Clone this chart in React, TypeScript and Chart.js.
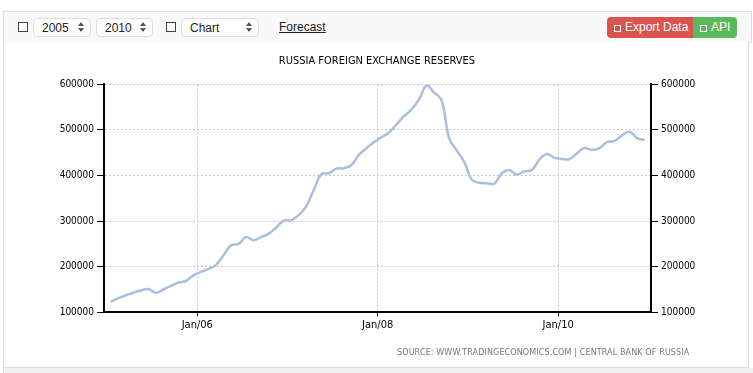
import React, { useEffect, useRef } from "react";
import Chart from "chart.js/auto";

// ---- data ----
const years = [2005, 2006, 2007, 2008, 2009, 2010];
const r2005 = [123000, 131000, 137000, 143000, 148000, 151000, 143000, 150000, 158000, 165000, 169000, 181000];
const r2006 = [189000, 195000, 204000, 225000, 247000, 250000, 265000, 258000, 265000, 272000, 286000, 301000];
const r2007 = [302000, 313000, 333000, 368000, 403000, 405000, 415000, 416000, 423000, 445000, 460000, 473000];
const r2008 = [484000, 494000, 512000, 530000, 545000, 567000, 597000, 582000, 565000, 482000, 455000, 430000];
const r2009 = [391000, 384000, 383000, 382000, 405000, 412000, 402000, 409000, 412000, 435000, 447000, 439000];
const r2010 = [436000, 436000, 449000, 460000, 456000, 460000, 473000, 476000, 488000, 496000, 482000, 478000];
const reservesByYear = [r2005, r2006, r2007, r2008, r2009, r2010];

const xTickMonths = [12, 36, 60];
const xTickLabels = ["Jan/06", "Jan/08", "Jan/10"];
const yMin = 100000;
const yMax = 600000;
const yStep = 100000;

const TITLE = "RUSSIA FOREIGN EXCHANGE RESERVES";
const SOURCE = "SOURCE: WWW.TRADINGECONOMICS.COM | CENTRAL BANK OF RUSSIA";

function Arrows({ x, y }: { x: number; y: number }) {
  return (
    <>
      <div style={{ position: "absolute", left: x, top: y, width: 0, height: 0, borderLeft: "3px solid transparent", borderRight: "3px solid transparent", borderBottom: "4px solid #555" }} />
      <div style={{ position: "absolute", left: x, top: y + 6, width: 0, height: 0, borderLeft: "3px solid transparent", borderRight: "3px solid transparent", borderTop: "4px solid #555" }} />
    </>
  );
}

function SelectBox({ left, width, text }: { left: number; width: number; text: string }) {
  return (
    <div style={{ position: "absolute", left, top: 18, width, height: 19, boxSizing: "border-box", border: "1px solid #ddd", borderRadius: 4, background: "#fff" }}>
      <span style={{ position: "absolute", left: 8, top: 1, fontSize: 12, lineHeight: "16px", color: "#222" }}>{text}</span>
      <Arrows x={width - 14} y={3} />
    </div>
  );
}

function CheckBox({ left }: { left: number }) {
  return <div style={{ position: "absolute", left, top: 22, width: 10, height: 10, boxSizing: "border-box", border: "1.5px solid #444", background: "#fff" }} />;
}

export default function App() {
  const canvasRef = useRef<HTMLCanvasElement | null>(null);

  useEffect(() => {
    if (!canvasRef.current) return;
    const points: { x: number; y: number }[] = [];
    reservesByYear.forEach((arr, yi) => {
      arr.forEach((v, mi) => {
        points.push({ x: (years[yi] - years[0]) * 12 + mi + 0.5, y: v });
      });
    });

    const axisFont = { family: "'DejaVu Sans Condensed', 'DejaVu Sans', sans-serif", size: 10 };

    const chart = new Chart(canvasRef.current, {
      type: "line",
      data: {
        datasets: [
          {
            label: "Reserves",
            data: points,
            borderColor: "#a9bfde",
            borderWidth: 2.5,
            pointRadius: 0,
            tension: 0.4,
            fill: false,
          },
        ],
      },
      options: {
        animation: false,
        responsive: false,
        maintainAspectRatio: false,
        layout: { padding: { left: 3, right: 0, top: 0, bottom: 0 } },
        plugins: {
          legend: { display: false },
          tooltip: { enabled: false },
          title: {
            display: true,
            text: TITLE,
            color: "#000",
            font: { family: "'DejaVu Sans Condensed', 'DejaVu Sans', sans-serif", size: 11, weight: "normal", lineHeight: 1.2 },
            padding: { top: 11.4, bottom: 16.7 },
          },
        },
        scales: {
          x: {
            type: "linear",
            min: -0.4,
            max: 72.35,
            afterBuildTicks: (scale: any) => {
              scale.ticks = xTickMonths.map((v) => ({ value: v }));
            },
            afterFit: (scale: any) => {
              scale.height = 54.7;
            },
            ticks: {
              autoSkip: false,
              maxRotation: 0,
              padding: 2,
              color: "#000",
              font: { family: "'DejaVu Sans Condensed', 'DejaVu Sans', sans-serif", size: 11 },
              callback: (v: any) => {
                const i = xTickMonths.indexOf(Number(v));
                return i >= 0 ? xTickLabels[i] : "";
              },
            },
            grid: { color: "#c8c8c8", lineWidth: 1, tickColor: "#000", tickLength: 4, tickWidth: 1 },
            border: { display: true, color: "#000", width: 2, dash: [2, 2] },
          },
          y: {
            position: "left",
            min: yMin,
            max: yMax,
            afterFit: (scale: any) => {
              scale.width = 97;
            },
            ticks: { stepSize: yStep, color: "#000", padding: 3, font: axisFont, callback: (v: any) => String(v) },
            grid: { color: "#c8c8c8", lineWidth: 1, tickColor: "#000", tickLength: 7, tickWidth: 1 },
            border: { display: true, color: "#000", width: 2, dash: [2, 2] },
          },
          y2: {
            position: "right",
            min: yMin,
            max: yMax,
            afterFit: (scale: any) => {
              scale.width = 96;
            },
            ticks: { stepSize: yStep, color: "#000", padding: 3, font: axisFont, callback: (v: any) => String(v) },
            grid: { drawOnChartArea: false, tickColor: "#000", tickLength: 7, tickWidth: 1 },
            border: { display: true, color: "#000", width: 2 },
          },
        },
      },
    } as any);
    return () => chart.destroy();
  }, []);

  return (
    <div style={{ position: "absolute", left: 0, top: 0, width: 753, height: 373, background: "#fff", overflow: "hidden", fontFamily: "'Liberation Sans', Arial, sans-serif" }}>
      {/* toolbar */}
      <div style={{ position: "absolute", left: 3, top: 11, width: 749, height: 32, boxSizing: "border-box", border: "1px solid #ddd", background: "#f9f9f9" }} />
      <CheckBox left={18} />
      <SelectBox left={33} width={58} text="2005" />
      <SelectBox left={96} width={57} text="2010" />
      <CheckBox left={166} />
      <SelectBox left={181} width={78} text="Chart" />
      <span style={{ position: "absolute", left: 279, top: 19, fontSize: 12, lineHeight: "16px", color: "#222", textDecoration: "underline" }}>Forecast</span>
      <div style={{ position: "absolute", left: 607, top: 17, width: 86, height: 21, background: "#d9534f", borderRadius: "4px 0 0 4px", color: "#fff", fontSize: 12 }}>
        <div style={{ position: "absolute", left: 7, top: 8, width: 7, height: 7, boxSizing: "border-box", border: "1px solid #fff" }} />
        <span style={{ position: "absolute", left: 18, top: 3, lineHeight: "15px" }}>Export Data</span>
      </div>
      <div style={{ position: "absolute", left: 693, top: 17, width: 44, height: 21, background: "#5cb85c", borderRadius: "0 4px 4px 0", color: "#fff", fontSize: 12 }}>
        <div style={{ position: "absolute", left: 7, top: 8, width: 7, height: 7, boxSizing: "border-box", border: "1px solid #fff" }} />
        <span style={{ position: "absolute", left: 18, top: 3, lineHeight: "15px" }}>API</span>
      </div>
      {/* chart frame */}
      <div style={{ position: "absolute", left: 3, top: 42, width: 746, height: 326, boxSizing: "border-box", border: "1px solid #ddd", borderTop: "none", background: "#fff" }} />
      <div style={{ position: "absolute", left: 3, top: 368, width: 750, height: 5, background: "#f0f0f0", borderLeft: "1px solid #ddd" }} />
      <canvas ref={canvasRef} width={743} height={324} style={{ position: "absolute", left: 4, top: 43, width: 743, height: 324 }} />
      <span style={{ position: "absolute", left: 397, top: 348, fontSize: 8, lineHeight: "10px", letterSpacing: "0.13px", color: "#777", fontFamily: "'DejaVu Sans', sans-serif", whiteSpace: "nowrap" }}>{SOURCE}</span>
    </div>
  );
}
